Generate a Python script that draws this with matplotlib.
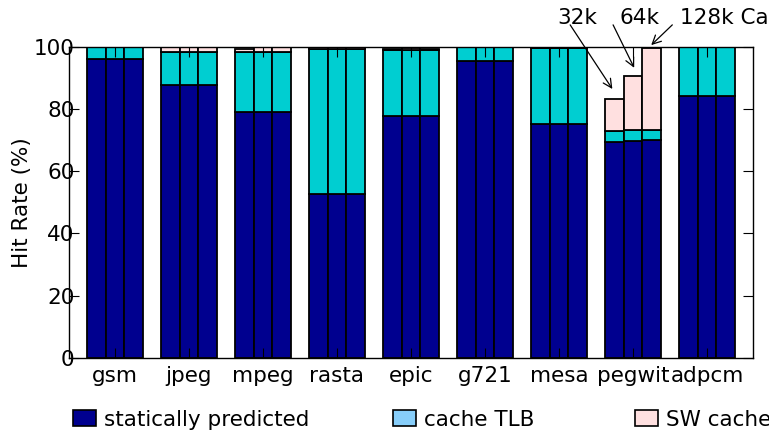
import numpy as np
import matplotlib.pyplot as plt
from matplotlib.patches import Patch

plt.rcParams['font.family'] = 'DejaVu Sans'
plt.rcParams['font.size'] = 15.5

benchmarks = ['gsm', 'jpeg', 'mpeg', 'rasta', 'epic', 'g721', 'mesa', 'pegwit', 'adpcm']
cache_sizes = ['32k', '64k', '128k']

# hit rate split per benchmark, one value per cache size
static_pred = [
    [95.9, 95.9, 95.9], [87.7, 87.7, 87.7], [79.0, 79.0, 79.0],
    [52.6, 52.6, 52.6], [77.8, 77.8, 77.8], [95.4, 95.4, 95.4],
    [75.3, 75.3, 75.3], [69.3, 69.7, 69.9], [84.3, 84.3, 84.3],
]
cache_tlb = [
    [4.1, 4.1, 4.1], [10.7, 10.7, 10.7], [19.2, 19.2, 19.2],
    [46.7, 46.7, 46.7], [21.1, 21.1, 21.1], [4.6, 4.6, 4.6],
    [24.2, 24.2, 24.2], [3.5, 3.4, 3.2], [15.7, 15.7, 15.7],
]
sw_cache = [
    [0.0, 0.0, 0.0], [1.6, 1.6, 1.6], [1.0, 1.8, 1.8],
    [0.5, 0.5, 0.5], [0.3, 0.6, 0.3], [0.0, 0.0, 0.0],
    [0.4, 0.4, 0.4], [10.5, 17.4, 26.6], [0.0, 0.0, 0.0],
]

c_static = '#00008f'
c_tlb = '#00ced1'
c_sw = '#ffe0e0'
c_tlb_legend = '#87cefa'

static_pred = np.array(static_pred)
cache_tlb = np.array(cache_tlb)
sw_cache = np.array(sw_cache)

fig = plt.figure(figsize=(7.69, 4.36), dpi=100)
ax = fig.add_axes([0.0897, 0.179, 0.8895, 0.714])

x = np.arange(len(benchmarks))
w = 0.25
bar_kw = dict(width=w, edgecolor='black', linewidth=1.3)
for j in range(len(cache_sizes)):
    pos = x + (j - 1) * w
    ax.bar(pos, static_pred[:, j], color=c_static, **bar_kw)
    ax.bar(pos, cache_tlb[:, j], bottom=static_pred[:, j], color=c_tlb, **bar_kw)
    ax.bar(pos, sw_cache[:, j], bottom=static_pred[:, j] + cache_tlb[:, j],
           color=c_sw, **bar_kw)

ax.set_xlim(-0.62, 8.62)
ax.set_ylim(0, 100)
ax.set_yticks([0, 20, 40, 60, 80, 100])
ax.set_xticks(x)
ax.set_xticklabels(benchmarks)
ax.tick_params(axis='y', direction='in', length=7, pad=-4, right=True)
ax.tick_params(axis='x', direction='in', length=7, pad=6, top=True)
ax.set_ylabel('Hit Rate (%)')
ax.yaxis.set_label_coords(-0.054, 0.5)
for s in ax.spines.values():
    s.set_linewidth(1.0)

# labels and arrows for the three pegwit cache sizes
peg = benchmarks.index('pegwit')
tot = static_pred + cache_tlb + sw_cache
ax.text(6.245, 109.2, '32k', ha='center', va='center', clip_on=False)
ax.text(7.08, 109.2, '64k', ha='center', va='center', clip_on=False)
ax.text(7.64, 109.2, '128k Cache', ha='left', va='center', clip_on=False)

arrow = dict(arrowstyle='->', color='black', lw=0.9, shrinkA=0, shrinkB=0)
ax.annotate('', xy=(peg - w - 0.03, tot[peg, 0] + 3.1), xytext=(6.15, 107),
            arrowprops=arrow, annotation_clip=False)
ax.annotate('', xy=(peg + 0.015, tot[peg, 1] + 2.7), xytext=(6.73, 107),
            arrowprops=arrow, annotation_clip=False)
ax.annotate('', xy=(peg + w - 0.005, tot[peg, 2] + 0.8), xytext=(7.53, 107),
            arrowprops=arrow, annotation_clip=False)

legend_items = [
    ('statically predicted', c_static, 73),
    ('cache TLB', c_tlb_legend, 393),
    ('SW cache', c_sw, 635),
]
for label, col, px in legend_items:
    fig.legend(handles=[Patch(facecolor=col, edgecolor='black', linewidth=1.2)],
               labels=[label], loc='center left',
               bbox_to_anchor=(px / 769, 16.5 / 436), frameon=False,
               borderpad=0, borderaxespad=0, handlelength=1.07,
               handleheight=0.8, handletextpad=0.35)

fig.savefig('out.png', dpi=100)
